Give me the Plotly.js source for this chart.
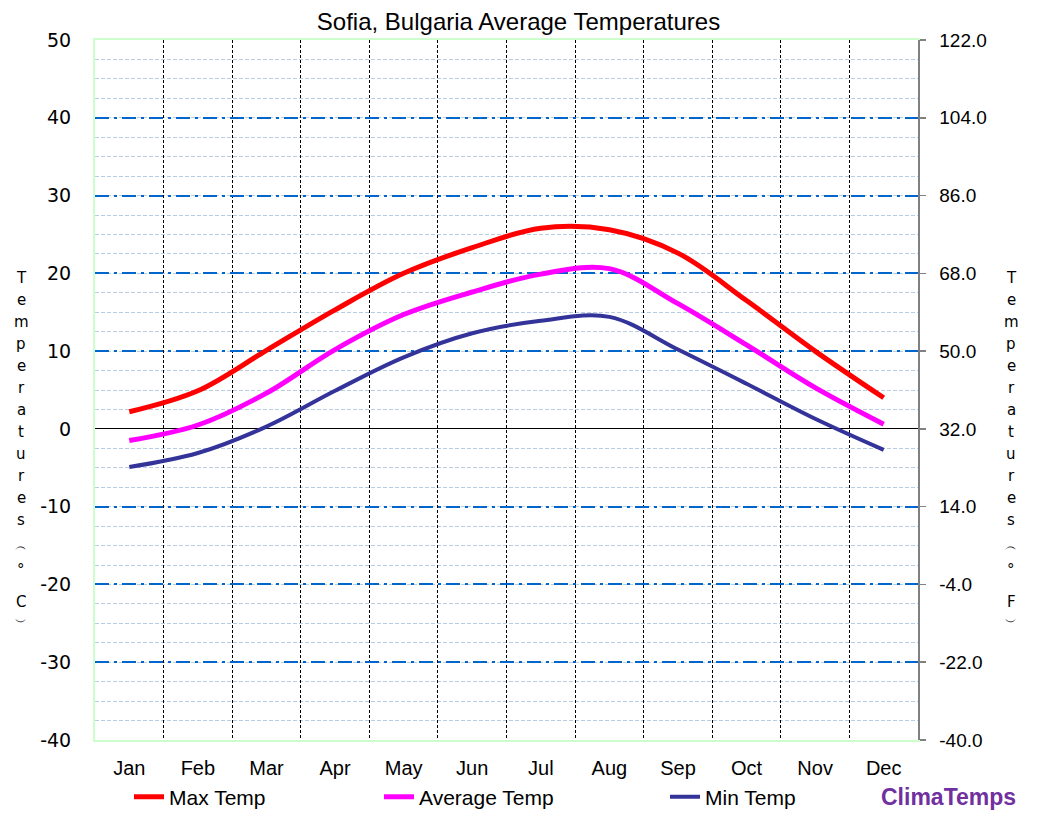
<!DOCTYPE html>
<html>
<head>
<meta charset="utf-8">
<script src="https://cdn.plot.ly/plotly-3.0.1.min.js"></script>
<style>html,body{margin:0;padding:0;background:#fff;}#chart{width:1037px;height:821px;}</style>
</head>
<body>
<div id="chart"></div>
<script>
const months = ["Jan","Feb","Mar","Apr","May","Jun","Jul","Aug","Sep","Oct","Nov","Dec"];
const maxTemp = [2.2, 4.9, 10.1, 15.3, 20.0, 23.3, 25.8, 25.6, 22.6, 16.5, 10.0, 4.0];
const avgTemp = [-1.5, 0.5, 4.6, 10.2, 14.7, 17.6, 19.9, 20.6, 16.1, 10.8, 5.3, 0.6];
const minTemp = [-4.9, -3.1, 0.3, 4.9, 9.2, 12.3, 13.9, 14.4, 10.2, 5.8, 1.3, -2.7];
const seriesNames = ["Max Temp", "Average Temp", "Min Temp"];
const celsiusTicks = [-40, -30, -20, -10, 0, 10, 20, 30, 40, 50];
const celsiusLabels = ["-40", "-30", "-20", "-10", "0", "10", "20", "30", "40", "50"];
const fahrenheitTicks = [-40, -22, -4, 14, 32, 50, 68, 86, 104, 122];
const fahrenheitLabels = ["-40.0", "-22.0", "-4.0", "14.0", "32.0", "50.0", "68.0", "86.0", "104.0", "122.0"];
const leftTitleChars = ["T","e","m","p","e","r","a","t","u","r","e","s","︵","°","C","︶"];
const rightTitleChars = ["T","e","m","p","e","r","a","t","u","r","e","s","︵","°","F","︶"];

const W = 1037, H = 821, L = 95, R = 918, T = 40, B = 740;
const px2x = p => (p - L) / (R - L);
const py2y = p => (B - p) / (B - T);

const charY = [278,300,322,344,366,388,410,432,454,476,498,520,546,570,602,622];

function titleAnn(chars, px) {
  return chars.map((c, i) => ({
    text: c, xref: "paper", yref: "paper", x: px2x(px), y: py2y(charY[i]),
    showarrow: false, xanchor: "center", yanchor: "middle",
    font: {family: "DejaVu Sans", size: (i === 12 || i === 15) ? 12 : 15, color: "#000"}
  }));
}

const traces = [
  {x: months, y: maxTemp, name: seriesNames[0], type: "scatter", mode: "lines",
   line: {color: "#FF0000", width: 5, shape: "spline", smoothing: 1}, legend: "legend"},
  {x: months, y: avgTemp, name: seriesNames[1], type: "scatter", mode: "lines",
   line: {color: "#FF00FF", width: 5, shape: "spline", smoothing: 1}, legend: "legend2"},
  {x: months, y: minTemp, name: seriesNames[2], type: "scatter", mode: "lines",
   line: {color: "#333399", width: 4, shape: "spline", smoothing: 1}, legend: "legend3"}
];

const legBase = {orientation: "h", xref: "container", yref: "container", yanchor: "middle",
  y: 1 - 797 / H, bgcolor: "rgba(0,0,0,0)", font: {family: "Liberation Sans", size: 21, color: "#000"},
  itemwidth: 30};

const layout = {
  width: W, height: H,
  margin: {l: L, r: W - R, t: T, b: H - B, pad: 0},
  paper_bgcolor: "#fff", plot_bgcolor: "#fff",
  title: {text: "Sofia, Bulgaria Average Temperatures", x: 0.5, xanchor: "center", y: 1 - 22 / H, yanchor: "middle",
    font: {family: "Liberation Sans", size: 24, color: "#000"}},
  xaxis: {type: "category", categoryorder: "array", categoryarray: months, range: [-0.5, 11.5],
    tickson: "boundaries", ticks: "", showgrid: true, gridcolor: "#000", gridwidth: 1, griddash: "3px,2px",
    showline: true, linecolor: "#CCFFCC", linewidth: 2, mirror: true, zeroline: false,
    tickfont: {family: "Liberation Sans", size: 20, color: "#000"}, ticklabelstandoff: 9, fixedrange: true},
  yaxis: {range: [-40, 50], tickmode: "array", tickvals: celsiusTicks, ticktext: celsiusLabels,
    ticks: "", showgrid: true, gridcolor: "#0066CC", gridwidth: 2,
    griddash: "14px,5px,3px,5px", zeroline: true, zerolinecolor: "#000", zerolinewidth: 1,
    showline: true, linecolor: "#CCFFCC", linewidth: 2, mirror: false,
    minor: {dtick: 2.5, tick0: 0, showgrid: true, gridcolor: "#B8CCE4", gridwidth: 1, griddash: "4px,2px"},
    tickfont: {family: "DejaVu Sans", size: 19, color: "#000"}, ticklabelstandoff: 18, fixedrange: true},
  yaxis2: {overlaying: "y", side: "right", range: [-40, 122], tickmode: "array", tickvals: fahrenheitTicks,
    ticktext: fahrenheitLabels,
    showgrid: false, zeroline: false, showline: true, linecolor: "#808080", linewidth: 1.5,
    ticks: "outside", ticklen: 6, tickcolor: "#808080", tickwidth: 1.5,
    tickfont: {family: "Liberation Sans", size: 19, color: "#000"}, ticklabelstandoff: 10, fixedrange: true},
  showlegend: true,
  legend: Object.assign({}, legBase, {x: 129 / W}),
  legend2: Object.assign({}, legBase, {x: 379 / W}),
  legend3: Object.assign({}, legBase, {x: 665 / W}),
  annotations: [
    {text: "<b>ClimaTemps</b>", xref: "paper", yref: "paper", x: px2x(1018), y: py2y(797),
     xanchor: "right", yanchor: "middle", showarrow: false,
     font: {family: "Liberation Sans", size: 23, color: "#7030A0"}}
  ].concat(titleAnn(leftTitleChars, 21)).concat(titleAnn(rightTitleChars, 1011))
};

// invisible trace in °F to anchor the right axis
traces.push({x: months, y: maxTemp.map(v => v * 1.8 + 32), yaxis: "y2", type: "scatter", mode: "lines",
  line: {width: 0}, hoverinfo: "skip", showlegend: false, opacity: 0});

Plotly.newPlot("chart", traces, layout, {staticPlot: true, displayModeBar: false});
</script>
</body>
</html>
